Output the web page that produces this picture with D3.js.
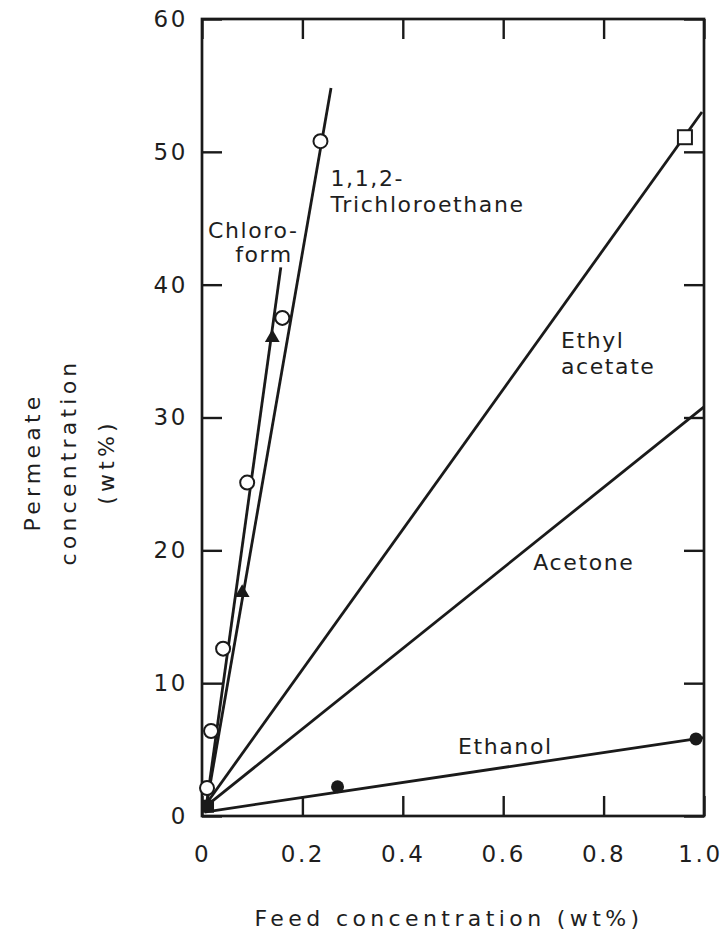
<!DOCTYPE html>
<html>
<head>
<meta charset="utf-8">
<script src="https://cdn.jsdelivr.net/npm/d3@7/dist/d3.min.js"></script>
<style>
  body { margin: 0; background: #fff; }
  text { font-family: "DejaVu Sans", sans-serif; fill: #1e1e1e; }
</style>
</head>
<body>
<div id="chart"></div>
<script>
// values (x = feed wt%, y = permeate wt%)
const xTicks = [0, 0.2, 0.4, 0.6, 0.8, 1.0];
const yTicks = [0, 10, 20, 30, 40, 50, 60];

// fitted straight lines, [start, end]
const trichloroLine = [[0.008, 0.6], [0.257, 54.8]];
const chloroformLine = [[0.008, 0.6], [0.157, 41.3]];
const ethylAcetateLine = [[0.01, 1.0], [0.996, 53.0]];
const acetoneLine = [[0.01, 0.8], [1.0, 30.8]];
const ethanolLine = [[0.005, 0.3], [1.0, 5.9]];

// measured points
const trichloroPts = [[0.01, 2.1], [0.018, 6.4], [0.042, 12.6], [0.09, 25.1], [0.16, 37.5], [0.236, 50.8]];
const chloroformPts = [[0.08, 16.8], [0.14, 36.0]];
const ethylAcetatePts = [[0.962, 51.1]];
const ethanolPts = [[0.27, 2.2], [0.984, 5.8]];
const originPts = [[0.012, 0.7]];

const labels = [
    { text: "1,1,2-", x: 0.256, y: 47.4 },
    { text: "Trichloroethane", x: 0.256, y: 45.5 },
    { text: "Chloro-", x: 0.012, y: 43.5 },
    { text: "form", x: 0.066, y: 41.7 },
    { text: "Ethyl", x: 0.715, y: 35.2 },
    { text: "acetate", x: 0.715, y: 33.3 },
    { text: "Acetone", x: 0.66, y: 18.5 },
    { text: "Ethanol", x: 0.51, y: 4.7 }
];

const width = 725, height = 939;
const margin = { top: 19, right: 21, bottom: 123, left: 202 };

const svg = d3.select("#chart")
    .append("svg")
    .attr("width", width)
    .attr("height", height);

const x = d3.scaleLinear().domain([0, 1]).range([margin.left, width - margin.right]);
const y = d3.scaleLinear().domain([0, 60]).range([height - margin.bottom, margin.top]);

const ink = "#1a1a1a";
const tickLen = 20;

function styleAxis(g) {
    g.select(".domain").remove();
    g.selectAll(".tick line").attr("stroke", ink).attr("stroke-width", 2.4);
    g.selectAll(".tick text")
        .style("font-size", "23px")
        .style("letter-spacing", "2.6px")
        .attr("fill", "#1e1e1e");
}

const xFmt = d => d === 0 ? "0" : d3.format(".1f")(d);

const xAxisG = svg.append("g")
    .attr("transform", `translate(0,${y(0)})`)
    .call(d3.axisBottom(x).tickValues(xTicks).tickFormat(xFmt).tickSizeInner(-tickLen).tickSizeOuter(0).tickPadding(30))
    .call(styleAxis);
// keep the last label inside the page
xAxisG.selectAll(".tick text").filter(d => d === 1).attr("dx", "-4");

svg.append("g")
    .attr("transform", `translate(0,${y(60)})`)
    .call(d3.axisTop(x).tickValues(xTicks).tickFormat("").tickSizeInner(-tickLen).tickSizeOuter(0))
    .call(styleAxis);

svg.append("g")
    .attr("transform", `translate(${x(0)},0)`)
    .call(d3.axisLeft(y).tickValues(yTicks).tickSizeInner(-tickLen).tickSizeOuter(0).tickPadding(14))
    .call(styleAxis);

svg.append("g")
    .attr("transform", `translate(${x(1)},0)`)
    .call(d3.axisRight(y).tickValues(yTicks).tickFormat("").tickSizeInner(-tickLen).tickSizeOuter(0))
    .call(styleAxis);

// frame
svg.append("rect")
    .attr("x", x(0))
    .attr("y", y(60))
    .attr("width", x(1) - x(0))
    .attr("height", y(0) - y(60))
    .attr("fill", "none")
    .attr("stroke", ink)
    .attr("stroke-width", 2.7);

// lines
const line = d3.line().x(d => x(d[0])).y(d => y(d[1]));
[trichloroLine, chloroformLine, ethylAcetateLine, acetoneLine, ethanolLine].forEach(l => {
    svg.append("path")
        .attr("d", line(l))
        .attr("fill", "none")
        .attr("stroke", ink)
        .attr("stroke-width", 2.8);
});

// markers
svg.selectAll("circle.tce")
    .data(trichloroPts)
    .join("circle")
    .attr("class", "tce")
    .attr("cx", d => x(d[0]))
    .attr("cy", d => y(d[1]))
    .attr("r", 7)
    .attr("fill", "#fff")
    .attr("stroke", ink)
    .attr("stroke-width", 2);

svg.selectAll("path.chl")
    .data(chloroformPts)
    .join("path")
    .attr("class", "chl")
    .attr("transform", d => `translate(${x(d[0])},${y(d[1])})`)
    .attr("d", d3.symbol(d3.symbolTriangle, 95))
    .attr("fill", ink);

svg.selectAll("rect.ea")
    .data(ethylAcetatePts)
    .join("rect")
    .attr("class", "ea")
    .attr("x", d => x(d[0]) - 7)
    .attr("y", d => y(d[1]) - 7)
    .attr("width", 14)
    .attr("height", 14)
    .attr("fill", "#fff")
    .attr("stroke", ink)
    .attr("stroke-width", 2);

svg.selectAll("circle.eth")
    .data(ethanolPts)
    .join("circle")
    .attr("class", "eth")
    .attr("cx", d => x(d[0]))
    .attr("cy", d => y(d[1]))
    .attr("r", 6.5)
    .attr("fill", ink);

svg.selectAll("rect.origin")
    .data(originPts)
    .join("rect")
    .attr("class", "origin")
    .attr("x", d => x(d[0]) - 6)
    .attr("y", d => y(d[1]) - 7)
    .attr("width", 12)
    .attr("height", 13)
    .attr("fill", ink);

// curve labels
svg.selectAll("text.lbl")
    .data(labels)
    .join("text")
    .attr("class", "lbl")
    .attr("x", d => x(d.x))
    .attr("y", d => y(d.y))
    .text(d => d.text)
    .style("font-size", "22px")
    .style("letter-spacing", "1.6px");

// axis titles
svg.append("text")
    .attr("x", 449)
    .attr("y", 926)
    .attr("text-anchor", "middle")
    .text("Feed concentration (wt%)")
    .style("font-size", "22px")
    .style("letter-spacing", "4.4px");

const yTitle = [
    { text: "Permeate", cx: 32 },
    { text: "concentration", cx: 68 },
    { text: "(wt%)", cx: 106 }
];
svg.selectAll("text.ytitle")
    .data(yTitle)
    .join("text")
    .attr("class", "ytitle")
    .attr("transform", d => `translate(${d.cx},462) rotate(-90)`)
    .attr("text-anchor", "middle")
    .attr("dy", "0.36em")
    .text(d => d.text)
    .style("font-size", "22px")
    .style("letter-spacing", "4.2px");
</script>
</body>
</html>
